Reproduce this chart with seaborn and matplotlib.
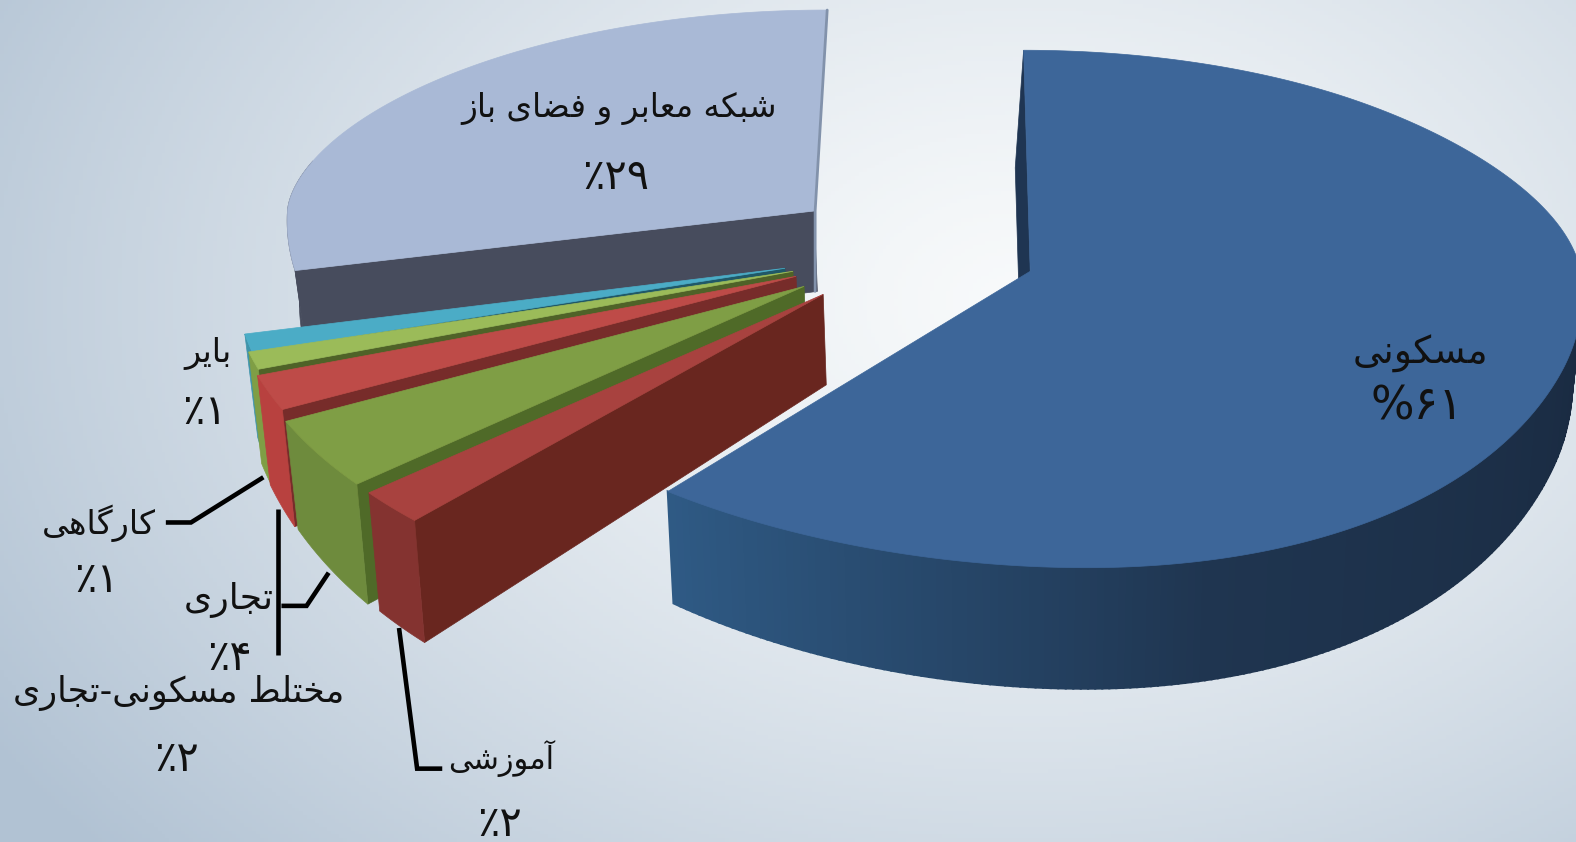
import numpy as np
import pandas as pd
import seaborn as sns
import matplotlib
matplotlib.use("Agg")
import matplotlib.pyplot as plt
from matplotlib.colors import to_rgb

# ---------- data ----------
categories = ["مسکونی", "آموزشی", "تجاری", "مختلط مسکونی-تجاری", "کارگاهی", "بایر", "شبکه معابر و فضای باز"]
values = [61, 2, 4, 2, 1, 1, 29]

top_colors = ["#3D6699", "#A8423F", "#7F9E45", "#BE4B48", "#9BBB59", "#4BACC6", "#A9B9D6"]
front_colors = ["#2F5A85", "#843330", "#6E8B3D", "#B8413F", "#7F9E45", "#3F94AB", "#474C5D"]
wall_colors = ["#1F3552", "#69261F", "#4F6A28", "#772C2A", "#4F6228", "#205867", "#474C5D"]

# ---------- layout of the exploded 3D pie (pixels) ----------
apex = [(1025, 270), (819, 293), (800, 285), (792, 275), (789, 270), (781, 267), (810, 210)]
rx = [548, 579, 570, 565, 561, 549, 524]
ry_low = [295, 316, 315, 311, 307, 320, 290]
ry_up = [220, 220, 220, 220, 220, 220, 200]
shear_up = [0.03, 0, 0, 0, 0, 0, -0.06]
shear_low = [0.19, 0, 0, 0, 0, 0, -0.06]
depth0 = [85, 90, 82, 86, 95, 90, 80]
depth_slope = [0.12, 0.14, 0.19, 0.23, 0.2, 0.2, 0.08]
inner_depth = [117, None, None, None, None, None, None]
inner_dx = [-8, 0, 0, 0, 0, 0, 0]
upper_exp = [1, 1, 1, 1, 1, 1, 1.12]

label_xy = [(1413, 352), (499, 755), (228, 597), (178, 690), (98, 521), (207, 352), (616, 108)]
pct_xy = [(1410, 405), (497, 820), (228, 655), (176, 755), (96, 577), (204, 410), (613, 176)]
label_fs = [27, 22, 26, 25, 24, 24, 23.5]
pct_fs = [33, 30, 30, 30, 30, 30, 30]
leaders = [
    [(165, 520), (190, 520), (262, 475)],
    [(280, 603), (305, 603), (327, 570)],
    [(277, 507), (277, 652)],
    [(397, 625), (415, 765), (440, 765)],
]

# ---------- Persian shaping (matplotlib has no bidi / shaping) ----------
FORMS = {
    "ا": (0xFE8D, 0xFE8E), "آ": (0xFE81, 0xFE82), "ر": (0xFEAD, 0xFEAE), "ز": (0xFEAF, 0xFEB0), "و": (0xFEED, 0xFEEE),
    "ب": (0xFE8F, 0xFE90, 0xFE91, 0xFE92), "ت": (0xFE95, 0xFE96, 0xFE97, 0xFE98),
    "ج": (0xFE9D, 0xFE9E, 0xFE9F, 0xFEA0), "خ": (0xFEA5, 0xFEA6, 0xFEA7, 0xFEA8),
    "س": (0xFEB1, 0xFEB2, 0xFEB3, 0xFEB4), "ش": (0xFEB5, 0xFEB6, 0xFEB7, 0xFEB8),
    "ض": (0xFEBD, 0xFEBE, 0xFEBF, 0xFEC0), "ط": (0xFEC1, 0xFEC2, 0xFEC3, 0xFEC4),
    "ع": (0xFEC9, 0xFECA, 0xFECB, 0xFECC), "ف": (0xFED1, 0xFED2, 0xFED3, 0xFED4),
    "ل": (0xFEDD, 0xFEDE, 0xFEDF, 0xFEE0), "م": (0xFEE1, 0xFEE2, 0xFEE3, 0xFEE4),
    "ن": (0xFEE5, 0xFEE6, 0xFEE7, 0xFEE8), "ه": (0xFEE9, 0xFEEA, 0xFEEB, 0xFEEC),
    "ک": (0xFB8E, 0xFB8F, 0xFB90, 0xFB91), "گ": (0xFB92, 0xFB93, 0xFB94, 0xFB95),
    "ی": (0xFBFC, 0xFBFD, 0xFBFE, 0xFBFF),
}


def rtl(text):
    out = []
    for i, ch in enumerate(text):
        if ch not in FORMS:
            out.append(ch)
            continue
        f = FORMS[ch]
        prev_joins = i > 0 and text[i - 1] in FORMS and len(FORMS[text[i - 1]]) == 4
        next_joins = i + 1 < len(text) and text[i + 1] in FORMS
        if len(f) == 2:
            out.append(chr(f[1] if prev_joins else f[0]))
        elif prev_joins and next_joins:
            out.append(chr(f[3]))
        elif prev_joins:
            out.append(chr(f[1]))
        elif next_joins:
            out.append(chr(f[2]))
        else:
            out.append(chr(f[0]))
    return "".join(reversed(out))


def fa_pct(v, sign="٪"):
    digits = "".join("۰۱۲۳۴۵۶۷۸۹"[int(c)] for c in str(v))
    return sign + digits


# ---------- figure ----------
sns.set_theme(style="white")
plt.rcParams["font.family"] = ["DejaVu Sans"]
W, H = 1568, 838
fig = plt.figure(figsize=(15.76, 8.42), dpi=100)
ax = fig.add_axes([0, 0, 1, 1])
ax.set_xlim(0, W)
ax.set_ylim(H, 0)
ax.axis("off")

# background gradient
yy, xx = np.mgrid[0:H:220j, 0:W:400j]
d = np.sqrt(((xx - 1020) / 1150) ** 2 + ((yy - 300) / 800) ** 2)
d = np.clip(d, 0, 1.05)
c0, c1 = np.array(to_rgb("#F8FAFB")), np.array(to_rgb("#B6C6D6"))
bg = c0 + (c1 - c0)[None, None, :] * d[..., None] ** 1.3
ax.imshow(np.clip(bg, 0, 1), extent=[0, W, H, 0], aspect="auto", zorder=0)

df = pd.DataFrame({"category": categories, "value": values})
df["end"] = df["value"].cumsum() / df["value"].sum() * 360
df["start"] = df["end"] - df["value"] / df["value"].sum() * 360
df["top"] = list(sns.color_palette(top_colors))
df["front"] = list(sns.color_palette(front_colors))
df["wall"] = list(sns.color_palette(wall_colors))
blue_end = df["end"].iloc[0]
light_start = df["start"].iloc[6]


def view_angle(i, theta):
    """Foreshortening of the drawn 3D view, applied to the pie angle."""
    if i == 0:
        return theta * 1.011
    return np.interp(theta, [blue_end, light_start, 360.0], [blue_end + 5, light_start + 2.6, 360.0])


def project(i, theta):
    deg = view_angle(i, theta)
    t = np.radians(deg)
    s, c = np.sin(t), np.cos(t)
    if i == 0:
        u = np.clip((deg - 40) / 70, 0, 1)
        radius = np.where(s >= 0, 518 + 37 * u * u * (3 - 2 * u), 585)
        lean = np.where(c >= 0, -shear_up[0] * ry_up[0] * c, shear_low[0] * ry_low[0] * c * c)
    else:
        radius = rx[i]
        lean = None
    dx = radius * s
    up = np.abs(c) ** upper_exp[i] * ry_up[i]
    dy = np.where(c >= 0, -up, ry_low[i] * np.abs(c))
    if lean is None:
        lean = np.where(dy < 0, shear_up[i], shear_low[i]) * dy
    return apex[i][0] + dx + lean, apex[i][1] + dy


def drop(i, x, y, fixed=None):
    dp = fixed if fixed is not None else depth0[i] + depth_slope[i] * (np.asarray(y) - apex[i][1])
    return 1000 + (np.asarray(x) - 1000) * 0.983, np.asarray(y) + dp


def draw(i, row, z):
    th = np.linspace(row.start, row.end, 300)
    ax_, ay_ = apex[i]
    # straight wall on the start edge
    x1, y1 = project(i, row.start)
    bx1, by1 = drop(i, x1, y1, inner_depth[i])
    bax, bay = drop(i, ax_, ay_, inner_depth[i])
    ax.fill([ax_, x1, bx1 + inner_dx[i], bax + inner_dx[i]], [ay_, y1, by1, bay], color=row.wall, lw=0.5, zorder=z)
    # outer rounded wall
    x, y = project(i, th)
    bx, by = drop(i, x, y)
    if i == 0:
        seg = th >= 85
        xs, ys, bxs, bys, ts = x[seg], y[seg], bx[seg], by[seg], th[seg]
        stops = np.array([to_rgb("#1A2B42"), to_rgb("#1F3550"), row.front])
        for k in range(len(ts) - 1):
            col = [np.interp(ts[k], [100, 165, blue_end], stops[:, n]) for n in range(3)]
            ax.fill([xs[k], xs[k + 1], bxs[k + 1], bxs[k]], [ys[k], ys[k + 1], bys[k + 1], bys[k]],
                    color=col, lw=1.5, zorder=z)
    elif i == 6:
        seg = th <= 285
        ax.fill(np.r_[x[seg], bx[seg][::-1]], np.r_[y[seg], by[seg][::-1]], color=row.front, lw=0.5, zorder=z)
    else:
        ax.fill(np.r_[x, bx[::-1]], np.r_[y, by[::-1]], color=row.front, lw=0.5, zorder=z)
    # top face
    ax.fill(np.r_[ax_, x], np.r_[ay_, y], color=row.top, lw=0.5, zorder=z + 0.1)


order = [6, 5, 4, 3, 2, 1, 0]
for z, i in enumerate(order):
    draw(i, df.iloc[i], 2 + z)

# thin edge of the big light slice
xe, ye = project(6, 360.0)
ax.plot([xe + 1, apex[6][0] + 1, apex[6][0] + 1], [ye, apex[6][1], apex[6][1] + 80],
        color="#8292AB", lw=2, zorder=2.5)

# leader lines
for pts in leaders:
    ax.plot(*zip(*pts), color="black", lw=3.3, solid_joinstyle="miter", solid_capstyle="butt", zorder=12)

# labels
for i, row in df.iterrows():
    ax.text(*label_xy[i], rtl(row.category), ha="center", va="center", fontsize=label_fs[i], color="#111111", zorder=13)
    ax.text(*pct_xy[i], fa_pct(row.value, "%" if i == 0 else "٪"), ha="center", va="center",
            fontsize=pct_fs[i], color="#111111", zorder=13)

fig.savefig("out.png", dpi=100)
